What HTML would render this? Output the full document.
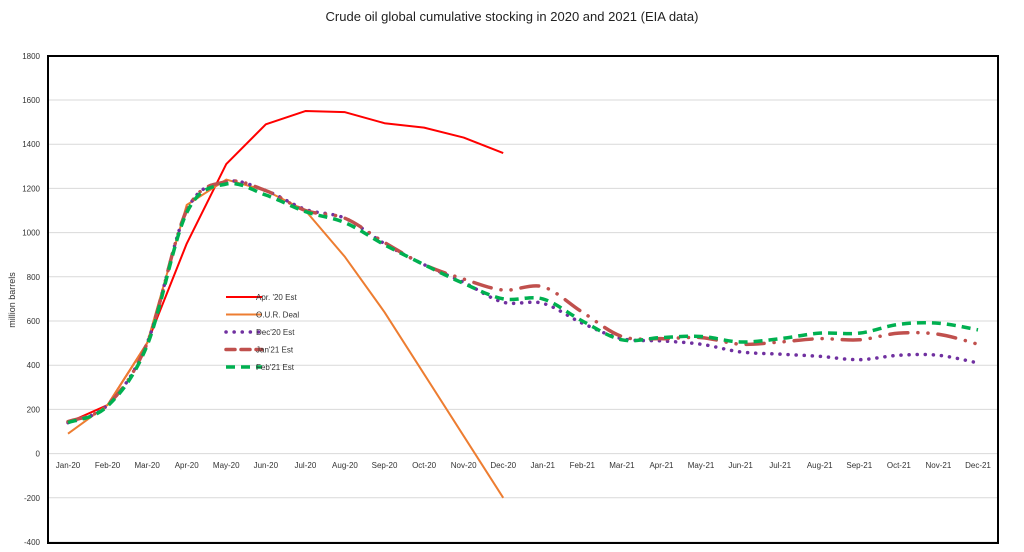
<!DOCTYPE html>
<html><head><meta charset="utf-8"><style>
body{margin:0;background:#fff;}
svg{display:block;font-family:"Liberation Sans",sans-serif;}
</style></head><body>
<svg id="chart" width="1024" height="552">
<text x="512" y="21" text-anchor="middle" font-size="13" fill="#222">Crude oil global cumulative stocking in 2020 and 2021 (EIA data)</text>
<text transform="translate(15,300) rotate(-90)" text-anchor="middle" font-size="9" fill="#333">million barrels</text>
<g id="grid"></g><g id="series"></g>
<rect x="48" y="56" width="950" height="487" fill="none" stroke="#000" stroke-width="2"/>
<g id="legend"></g>
</svg>
<script>
const months=["Jan-20","Feb-20","Mar-20","Apr-20","May-20","Jun-20","Jul-20","Aug-20","Sep-20","Oct-20","Nov-20","Dec-20","Jan-21","Feb-21","Mar-21","Apr-21","May-21","Jun-21","Jul-21","Aug-21","Sep-21","Oct-21","Nov-21","Dec-21"];
const yTicks=[-400,-200,0,200,400,600,800,1000,1200,1400,1600,1800];
const apr20=[140,220,500,950,1310,1490,1550,1545,1495,1475,1430,1360];
const ourDeal=[90,220,500,1125,1240,1190,1100,890,640,360,80,-200];
const dec20=[140,220,500,1100,1230,1190,1105,1065,950,855,775,685,680,590,520,510,495,460,450,440,425,445,445,410];
const jan21=[145,220,500,1100,1230,1190,1100,1065,955,855,790,740,755,640,530,520,525,495,505,520,515,545,540,495];
const feb21=[140,215,490,1090,1220,1170,1095,1045,945,855,770,700,700,600,515,525,530,505,520,545,545,585,590,560];
const NS="http://www.w3.org/2000/svg";
const x=i=>68+i*(978-68)/23;
const y=v=>453.6-v*44.2/200;
function mk(t,a,p){const e=document.createElementNS(NS,t);for(const k in a)e.setAttribute(k,a[k]);p.appendChild(e);return e;}
const grid=document.getElementById('grid');
yTicks.forEach(v=>{
 const l=mk('line',{x1:48,x2:998,y1:y(v),y2:y(v),stroke:'#d9d9d9','stroke-width':1},grid);
 
 
 const t=mk('text',{x:40,y:y(v)+3,'text-anchor':'end','font-size':8,fill:'#333'},grid);
 t.textContent=v;
 
 
});
months.forEach((m,i)=>{
 const t=mk('text',{x:x(i),y:468,'text-anchor':'middle','font-size':8,fill:'#333'},grid);
 t.textContent=m;
 
 
});
function path(vals){
 const p=vals.map((v,i)=>[x(i),y(v)]);let d='M'+p[0][0]+','+p[0][1];
 for(let i=0;i<p.length-1;i++){const p0=p[i-1]||p[i],p1=p[i],p2=p[i+1],p3=p[i+2]||p2;
  const c1=[p1[0]+(p2[0]-p0[0])/6,p1[1]+(p2[1]-p0[1])/6],c2=[p2[0]-(p3[0]-p1[0])/6,p2[1]-(p3[1]-p1[1])/6];
  d+=` C${c1[0]},${c1[1]} ${c2[0]},${c2[1]} ${p2[0]},${p2[1]}`;}
 return d;}
function lin(vals){return vals.map((v,i)=>(i?'L':'M')+x(i)+','+y(v)).join(' ');}
const S=[
 {n:"Apr. '20 Est",d:apr20,c:'#ff0000',w:2,da:'',lc:'butt',f:lin,id:'apr20'},
 {n:"O.U.R. Deal",d:ourDeal,c:'#ed7d31',w:2,da:'',lc:'butt',f:lin,id:'our-deal'},
 {n:"Dec'20 Est",d:dec20,c:'#7030a0',w:3.5,da:'0.1 8',lc:'round',f:path,id:'dec20'},
 {n:"Jan'21 Est",d:jan21,c:'#c0504d',w:3.5,da:'18 10 0.1 10 0.1 10',lc:'round',f:path,id:'jan21'},
 {n:"Feb'21 Est",d:feb21,c:'#00b050',w:3.5,da:'9 6',lc:'butt',f:path,id:'feb21'}];
const sg=document.getElementById('series'),lg=document.getElementById('legend');
S.forEach((s,k)=>{
 const e=mk('path',{d:s.f(s.d),fill:'none',stroke:s.c,'stroke-width':s.w,'stroke-dasharray':s.da,'stroke-linecap':s.lc,'stroke-linejoin':'round'},sg);
 
 
 const ly=297+k*17.5;
 const ll=mk('line',{x1:226,x2:262,y1:ly,y2:ly,stroke:s.c,'stroke-width':s.w,'stroke-dasharray':s.da==='0.1 8'?'0.1 8':(s.da?'9 6':''),'stroke-linecap':s.lc},lg);
 
 
 const lt=mk('text',{x:256,y:ly+3,'font-size':8,fill:'#333'},lg);
 lt.textContent=s.n;
 
 
});
</script>
</body></html>
